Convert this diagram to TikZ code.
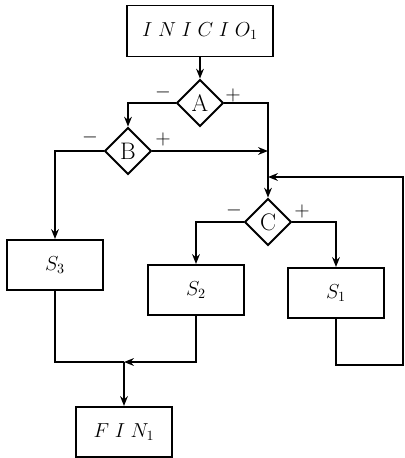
\documentclass[tikz,border=0pt]{standalone}
\usetikzlibrary{shapes.geometric,arrows.meta}
\begin{document}
\begin{tikzpicture}[x=0.025cm,y=-0.025cm,
  caja/.style={draw,line width=1.4pt,minimum width=2.4cm,minimum height=1.25cm,
    font=\Large},
  rombo/.style={draw,diamond,line width=1.4pt,minimum size=1.17cm,inner sep=0pt,
    font=\fontsize{17}{19}\selectfont},
  linea/.style={line width=1.4pt},
  flecha/.style={line width=1.4pt,-{Stealth[length=7pt,width=5.5pt]}},
  signo/.style={font=\Large}]
  \useasboundingbox (0,0) rectangle (405,458);
  \node[caja,minimum width=3.625cm,minimum height=1.275cm] (inicio) at (200,31) {$I\;N\;I\;C\;I\;O_1$};
  \node[rombo] (A) at (200,103) {A};
  \node[rombo] (B) at (128,151) {B};
  \node[rombo] (C) at (268,222) {C};
  \node[caja] (S3) at (55,265) {$S_3$};
  \node[caja] (S2) at (196,290) {$S_2$};
  \node[caja] (S1) at (336,293) {$S_1$};
  \node[caja] (fin) at (124,432) {$F\;I\;N_1$};
  \coordinate (derecha) at (403,177);
  \coordinate (entrada) at (268,177);
  \coordinate (bajo) at (403,365);
  \coordinate (union) at (124,362);
  \draw[flecha] (inicio) -- (A);
  \draw[flecha] (A.west) -| (B.north);
  \draw[flecha] (A.east) -| (C.north);
  \draw[flecha] (B.east) -- (B.east -| C.north);
  \draw[flecha] (B.west) -| (S3.north);
  \draw[flecha] (C.west) -| (S2.north);
  \draw[flecha] (C.east) -| (S1.north);
  \draw[flecha] (S1.south) |- (bajo) -- (derecha) -- (entrada);
  \draw[linea] (S3.south) |- (union);
  \draw[flecha] (S2.south) |- (union);
  \draw[flecha] (union) -- (fin.north);
  \node[signo] at (163,92) {$-$};
  \node[signo] at (233,95) {$+$};
  \node[signo] at (90,137) {$-$};
  \node[signo] at (163,139) {$+$};
  \node[signo] at (234,210) {$-$};
  \node[signo] at (302,211) {$+$};
\end{tikzpicture}
\end{document}
